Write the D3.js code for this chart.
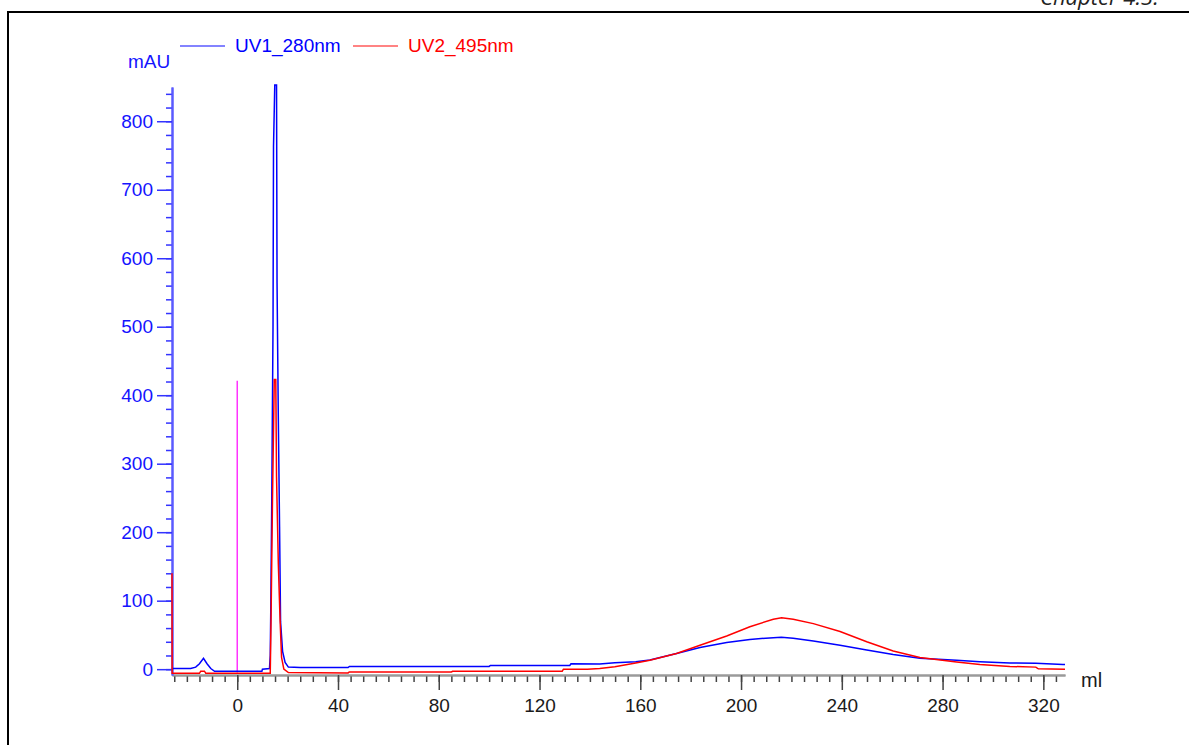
<!DOCTYPE html>
<meta charset="utf-8">
<head>
  <script src="https://d3js.org/d3.v7.min.js"></script>
  <style>
    body { margin: 0; background: #fff; font-family: 'Liberation Sans', Arial, sans-serif; }
  </style>
</head>
<div id="my_dataviz"></div>
<script>
  // UV1 280 nm trace (ml, mAU)
  var uv1Ml = [-25.9, -18.5, -16.5, -15, -13.4, -12, -10.5, -9, 9.8, 10, 12.8, 13.1, 13.3, 13.7, 14.2, 14.4, 14.9, 15.6, 15.8, 16.3, 16.8, 17.2, 18, 19, 20.3, 25, 44, 44.5, 100, 100.5, 132, 132.5, 143.9, 149.9, 158.2, 163.8, 174.4, 183.7, 194.3, 203.5, 212.8, 216, 220.7, 228.7, 239.3, 249.9, 260.4, 271, 285.6, 294.8, 306.7, 317, 327.8, 328.6];
  var uv1MAU = [1, 1, 3, 8, 16, 8, 1, -3, -3, 0, 1, 20, 83, 245, 500, 763, 853, 853, 564, 369, 208, 69, 26, 10, 3, 2.5, 2.5, 4, 4, 5.5, 5.5, 8, 7.5, 9.5, 11, 13.5, 23, 31.5, 39, 43.5, 46, 46.5, 45.2, 41.3, 35, 28, 21.5, 16, 13, 11, 9, 8.5, 7, 7];

  // UV2 495 nm trace (ml, mAU)
  var uv2Ml = [-25.9, -25.85, -15, -14.5, -13, -12.5, 13.1, 13.4, 14, 14.7, 15.3, 15.6, 16.3, 17, 17.6, 18.5, 20.3, 44, 44.5, 85, 85.5, 129, 129.5, 139, 143.9, 149.9, 158.2, 163.8, 174.4, 183.7, 194.3, 203.5, 212.8, 216.1, 220.7, 228.7, 239.3, 249.9, 260.4, 271, 285.6, 294.8, 306.7, 317, 318, 328.6];
  var uv2MAU = [140, -6, -6, -3, -3, -6, -6, 68, 250, 423, 423, 281, 155, 72, 17, 0, -5, -5.5, -4, -4, -3, -3, 0, 0, 1, 3.5, 9, 13, 23, 35, 48.5, 62, 73, 75, 73, 66.5, 55, 40, 26.5, 17, 10.5, 7, 4, 3, 0.5, 0];

  // injection mark
  var injectMl = 0;
  var injectMAU = [-5, 421];

  var xMajor = [0, 40, 80, 120, 160, 200, 240, 280, 320];
  var yMajor = [0, 100, 200, 300, 400, 500, 600, 700, 800];

  var series = [
    { name: "UV1_280nm", ml: uv1Ml, val: uv1MAU, color: "#0000ff", key: "#5a5aff" },
    { name: "UV2_495nm", ml: uv2Ml, val: uv2MAU, color: "#ff0000", key: "#ff5a5a" }
  ];

  var W = 1189, H = 745;
  var svg = d3.select("#my_dataviz").append("svg")
    .attr("width", W).attr("height", H)
    .style("display", "block");

  // page frame
  svg.append("rect")
    .attr("x", 8).attr("y", 12)
    .attr("width", 1300).attr("height", 900)
    .attr("fill", "none").attr("stroke", "#000").attr("stroke-width", 2);

  svg.append("text")
    .attr("x", 1040).attr("y", 5)
    .style("font-family", "'Open Sans', sans-serif")
    .style("font-style", "italic")
    .style("font-size", "22px")
    .attr("fill", "#222")
    .text("Chapter 4.3.");

  var x = d3.scaleLinear().domain([-25.9, 328.6]).range([172, 1065]);
  var y = d3.scaleLinear().domain([-8.5, 850]).range([675, 87]);

  // x axis
  var xMinor = svg.append("g")
    .attr("transform", "translate(0,675)")
    .call(d3.axisBottom(x).tickValues(d3.range(-25, 326, 5)).tickSize(7).tickSizeOuter(0).tickFormat(""));
  var xAxis = svg.append("g")
    .attr("transform", "translate(0,675)")
    .call(d3.axisBottom(x).tickValues(xMajor).tickSize(15).tickSizeOuter(0).tickPadding(9));
  [xMinor, xAxis].forEach(function (g) {
    g.select(".domain").attr("stroke", "#9a9a9a").attr("stroke-width", 2);
    g.selectAll(".tick line").attr("stroke", "#444").attr("stroke-width", 1.5);
  });
  xAxis.selectAll("text")
    .attr("fill", "#1a1a1a")
    .style("font-family", "'Liberation Sans', Arial, sans-serif")
    .style("font-size", "19px");

  svg.append("text")
    .attr("x", 1081).attr("y", 687)
    .attr("fill", "#1a1a1a")
    .style("font-size", "20px")
    .text("ml");

  // y axis
  var yMinor = svg.append("g")
    .attr("transform", "translate(172,0)")
    .call(d3.axisLeft(y).tickValues(d3.range(0, 841, 20)).tickSize(6).tickSizeOuter(0).tickFormat(""));
  var yAxis = svg.append("g")
    .attr("transform", "translate(172,0)")
    .call(d3.axisLeft(y).tickValues(yMajor).tickSize(15).tickSizeOuter(0).tickPadding(4));
  [yMinor, yAxis].forEach(function (g) {
    g.select(".domain").attr("stroke", "#5a5aff").attr("stroke-width", 2);
    g.selectAll(".tick line").attr("stroke", "#3333ff").attr("stroke-width", 1.5);
  });
  yAxis.selectAll("text")
    .attr("fill", "#1414ff")
    .style("font-family", "'Liberation Sans', Arial, sans-serif")
    .style("font-size", "19px");

  svg.append("text")
    .attr("x", 128).attr("y", 68)
    .attr("fill", "#1414ff")
    .style("font-size", "19px")
    .text("mAU");

  // injection mark
  svg.append("line")
    .attr("x1", x(injectMl)).attr("x2", x(injectMl))
    .attr("y1", y(injectMAU[0])).attr("y2", y(injectMAU[1]))
    .attr("stroke", "#ff33ff").attr("stroke-width", 1.5);

  // traces
  var line = d3.line()
    .x(function (d) { return x(d[0]); })
    .y(function (d) { return y(d[1]); });

  series.forEach(function (s) {
    var pts = s.ml.map(function (m, i) { return [m, s.val[i]]; });
    svg.append("path")
      .datum(pts)
      .attr("fill", "none")
      .attr("stroke", s.color)
      .attr("stroke-width", 1.5)
      .attr("d", line);
  });

  // legend
  var legX = [180, 353];
  series.forEach(function (s, i) {
    svg.append("line")
      .attr("x1", legX[i]).attr("x2", legX[i] + 45)
      .attr("y1", 46).attr("y2", 46)
      .attr("stroke", s.key).attr("stroke-width", 1.5);
    svg.append("text")
      .attr("x", legX[i] + 55).attr("y", 52)
      .attr("fill", s.color)
      .style("font-size", "19px")
      .text(s.name);
  });
</script>
